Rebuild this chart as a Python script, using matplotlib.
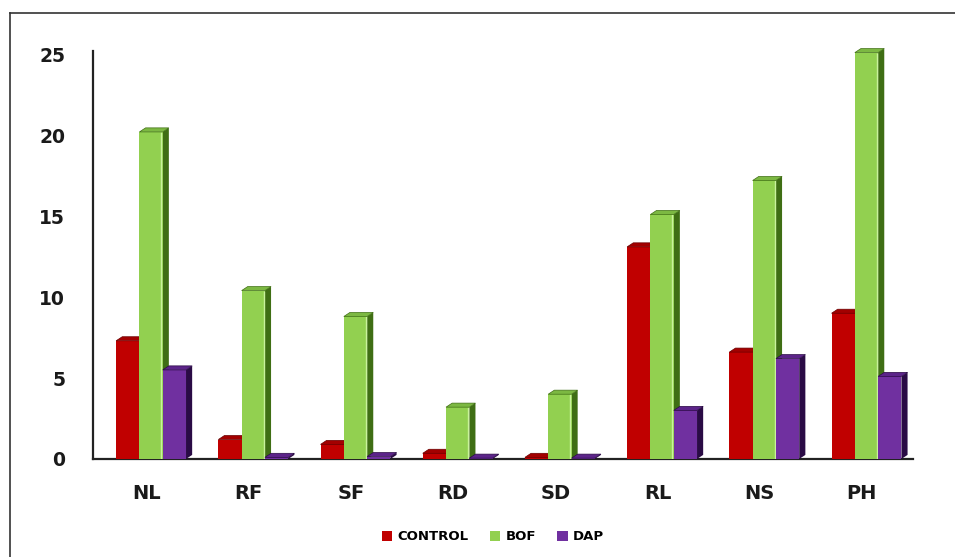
import matplotlib
matplotlib.use('Agg')
import matplotlib.pyplot as plt
from matplotlib.patches import Polygon, Patch
from matplotlib.lines import Line2D
import numpy as np

categories = ['NL', 'RF', 'SF', 'RD', 'SD', 'RL', 'NS', 'PH']
control = [7.3, 1.2, 0.9, 0.35, 0.1, 13.1, 6.6, 9.0]
bof = [20.2, 10.4, 8.8, 3.2, 4.0, 15.1, 17.2, 25.1]
dap = [5.5, 0.1, 0.15, 0.05, 0.05, 3.0, 6.2, 5.1]
series_names = ['CONTROL', 'BOF', 'DAP']
yticks = [0, 5, 10, 15, 20, 25]

front_colors = ['#C00000', '#92D050', '#7030A0']
side_colors = ['#6a0000', '#3f6e14', '#2a0b45']
top_colors = ['#a30000', '#7cb842', '#5c2489']

fig = plt.figure(figsize=(9.55, 5.57), dpi=100)
ax = fig.add_axes([0.0974, 0.176, 0.8586, 0.7325])

x = np.arange(len(categories))
w = 0.228
shift = 0.045
dx, dy = 0.06, 0.25

data = [control, bof, dap]
for i, vals in enumerate(data):
    pos = x + shift + (i - 1) * w
    bars = ax.bar(pos, vals, width=w, color=front_colors[i], edgecolor='none',
                  zorder=3 + i * 3, label=series_names[i])
    for b in bars:
        x0 = b.get_x()
        x1 = x0 + b.get_width()
        v = b.get_height()
        side = Polygon([(x1, 0), (x1 + dx, dy), (x1 + dx, v + dy), (x1, v)],
                       closed=True, facecolor=side_colors[i], edgecolor='none',
                       zorder=2 + i * 3, clip_on=False)
        top = Polygon([(x0, v), (x0 + dx, v + dy), (x1 + dx, v + dy), (x1, v)],
                      closed=True, facecolor=top_colors[i], edgecolor=side_colors[i],
                      linewidth=0.5, zorder=4 + i * 3, clip_on=False)
        ax.add_patch(side)
        ax.add_patch(top)
        if i == 1:
            ax.plot([x1 - 0.012, x1 - 0.012], [0, v], color='#c9f29c', lw=1.0,
                    zorder=3 + i * 3 + 0.5, solid_capstyle='butt')

ax.set_xlim(-0.523, 7.5)
ax.set_ylim(0, 25.2)
ax.set_yticks(yticks)
ax.set_yticklabels([str(t) for t in yticks], fontsize=13.5, fontweight='bold', color='#1a1a1a')
ax.set_xticks(x)
ax.set_xticklabels(categories, fontsize=14, fontweight='bold', color='#1a1a1a')
ax.tick_params(axis='y', length=0, pad=20)
ax.tick_params(axis='x', length=0, pad=18)
for s in ['top', 'right']:
    ax.spines[s].set_visible(False)
for s in ['left', 'bottom']:
    ax.spines[s].set_color('#222222')
    ax.spines[s].set_linewidth(1.6)

handles = [Patch(facecolor=c, edgecolor='none') for c in front_colors]
fig.legend(handles, series_names, loc='center', bbox_to_anchor=(0.516, 0.036), ncol=3,
           frameon=False, handlelength=0.8, handleheight=0.8, handletextpad=0.4,
           columnspacing=1.6, prop={'size': 9.5, 'weight': 'bold'})

# outer frame (top and left edges)
fig.add_artist(Line2D([10 / 955, 1.0], [1 - 13 / 557, 1 - 13 / 557], transform=fig.transFigure,
                      color='#333333', lw=1.2))
fig.add_artist(Line2D([10 / 955, 10 / 955], [0, 1 - 13 / 557], transform=fig.transFigure,
                      color='#333333', lw=1.2))

fig.savefig('out.png', dpi=100)
